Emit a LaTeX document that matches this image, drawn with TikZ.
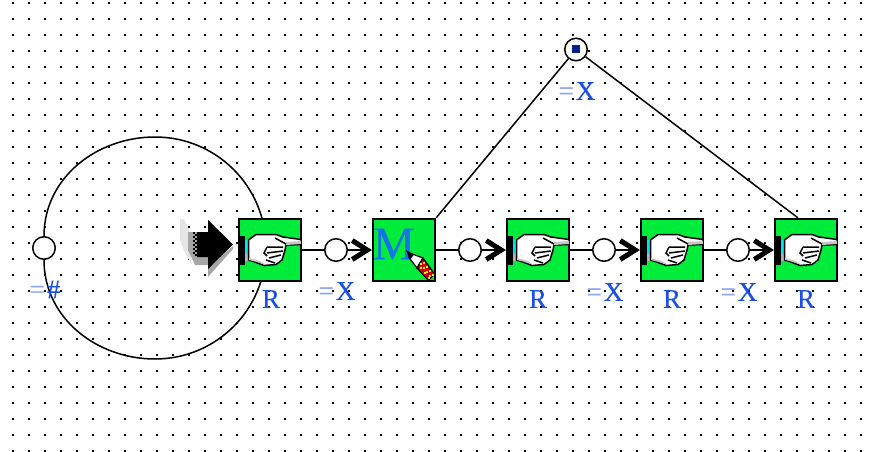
\documentclass[tikz,border=0pt]{standalone}
\usepackage{fontspec}
\setmainfont{Liberation Serif}
\newfontfamily\tagfont[FakeBold=0.15]{Liberation Serif}
\usepackage{tikz}
\usetikzlibrary{arrows.meta}

\definecolor{boxgreen}{HTML}{00EC3A}
\definecolor{labelblue}{HTML}{1A4FE6}
\definecolor{eqblue}{HTML}{8FA6F2}
\definecolor{cuffcyan}{HTML}{00E4F2}
\definecolor{tokenblue}{HTML}{0A2090}

\tikzset{
  place/.style={draw,circle,fill=white,line width=1.5pt,minimum size=22.5pt,inner sep=0pt},
  transbox/.style={draw,fill=boxgreen,line width=2.2pt,minimum size=62pt,inner sep=0pt},
  tokenbox/.style={fill=tokenblue,minimum size=8pt,inner sep=0pt},
  tag/.style={text=labelblue,font=\tagfont\fontsize{27}{27}\selectfont,inner sep=0pt},
  wire/.style={line width=1.5pt},
  arc/.style={wire,-{Straight Barb[length=15pt,width=19pt,line width=5pt]}},
  handicon/.pic={
    \fill (-31,-14) rectangle (-25.5,15);
    \fill[cuffcyan] (-25.5,-10.5) rectangle (-21.5,4);
    \fill[gray!60] (-25.5,4) rectangle (-21.5,10.5);
    \filldraw[fill=white,line width=1.5pt] (-21.5,-10) -- (-14,-15.5) -- (6,-15.5) -- (13,-13)
      -- (31,-10.5) -- (31,-5.5) -- (16,-5) -- (15,0) -- (12,10) -- (6,14.5) -- (-6,15.5) -- (-15,12)
      -- (-21.5,10) -- cycle;
    \fill[gray!45] (16,-8) -- (31,-9) -- (31,-6) -- (16,-5) -- cycle;
    \fill[gray!45] (-21,8) -- (-10,11) -- (-5,14.5) -- (-15,11.5) -- (-21,10) -- cycle;
    \draw[line width=1.5pt] (5,-12) -- (16,-6) (-3,-3) -- (13,-3) (-3,-3) -- (-6,3) -- (-3,6)
      (-3,3) -- (13,1) (-1,8) -- (11,5) (-4,10) -- (5,13);
  },
  penicon/.pic={
    \filldraw[fill=white,line width=1.2pt] (7,3.5) -- (19,8) -- (13,18) -- (5,7.5) -- cycle;
    \fill (2,0) -- (10,4.5) -- (6,10) -- cycle;
    \filldraw[fill=red!80!black,line width=1.2pt] (19,8) -- (30.5,24) -- (24.5,30.5) -- (13,18) -- cycle;
    \foreach \u/\v in {17/14,20/13,20/18,23/17,23/22,26/21,26/26,29/25,17/18,21/23,25/28}
      \fill[yellow] (\u-1,\v-1) rectangle (\u+1,\v+1);
  }
}

\begin{document}
\begin{tikzpicture}[x=1pt,y=-1pt]

\useasboundingbox (0,0) rectangle (870,452);

% Grid dots
\foreach \gx in {13,29,...,861}
	\foreach \gy in {3,19,...,451}
		\fill (\gx-1,\gy-1) rectangle (\gx+1,\gy+1);

% Loop
\node[place] (p0) at (44,248) {};
\coordinate (looptop) at (155,137);
\coordinate (loopright) at (266,248);
\coordinate (loopbot) at (155,359);
\draw[wire] (p0) to[out=90,in=180] (looptop) to[out=0,in=90] (loopright)
	to[out=-90,in=0] (loopbot) to[out=180,in=-90] (p0);

% Nodes
\node[transbox] (t1) at (270,250) {};
\node[transbox] (t2) at (404,250) {};
\node[transbox] (t3) at (538,250) {};
\node[transbox] (t4) at (672,250) {};
\node[transbox] (t5) at (806,250) {};
\node[place] (p1) at (336,250) {};
\node[place] (p2) at (470,250) {};
\node[place] (p3) at (604,250) {};
\node[place] (p4) at (738,250) {};
\node[place] (ptop) at (576,49.5) {};
\node[tokenbox] (tok) at (ptop) {};

% Icons
\foreach \t in {t1,t3,t4,t5}
	\pic at (\t) {handicon};
\node[text=labelblue!80!cyan,font=\tagfont\fontsize{47}{47}\selectfont,inner sep=0pt] (mark) at (394,244) {M};
\pic at (t2) {penicon};

% Connectors
\draw[wire] (t1) -- (p1);
\draw[arc] (p1) -- (t2);
\draw[wire] (t2) -- (p2);
\draw[arc] (p2) -- (t3);
\draw[wire] (t3) -- (p3);
\draw[arc] (p3) -- (t4);
\draw[wire] (t4) -- (p4);
\draw[arc] (p4) -- (t5);
\draw[wire] (t2.north east) -- (ptop);
\draw[wire] (ptop) -- ([xshift=-8pt]t5.north);

% Current marker
\fill[gray!20] (180,219) -- (184,219) -- (190,232) -- (190,250) -- (192,265) -- (186,255) -- (180,240) -- cycle;
\fill[gray!70] (188,232) -- (198,232) -- (198,257) -- (208,257) -- (208,265) -- (195,265) -- (188,250) -- cycle;
\fill[gray!70] (208,268) -- (233,246) -- (233,249) -- (208,277) -- cycle;
\fill (197,232) -- (208,232) -- (208,220) -- (233,244.5) -- (208,269) -- (208,257) -- (197,257) -- cycle;
\foreach \dy in {232,236,...,254} {
	\fill (193,\dy) rectangle (195,\dy+2);
	\fill (195,\dy+2) rectangle (197,\dy+4);
}

% Labels
\node[tag] (r1) at (271,299) {R};
\node[tag] (r3) at (538,299) {R};
\node[tag] (r4) at (672,299) {R};
\node[tag] (r5) at (806,299) {R};
\node[tag] (x1) at (337,291) {\textcolor{eqblue}{=}\kern2pt X};
\node[tag] (x3) at (605,292) {\textcolor{eqblue}{=}\kern2pt X};
\node[tag] (x4) at (739,292) {\textcolor{eqblue}{=}\kern2pt X};
\node[tag] (x5) at (577,91) {\textcolor{eqblue}{=}\kern2pt X};
\node[tag] (x0) at (45,289.5) {\textcolor{eqblue}{=}\kern2pt\#};

\end{tikzpicture}
\end{document}
